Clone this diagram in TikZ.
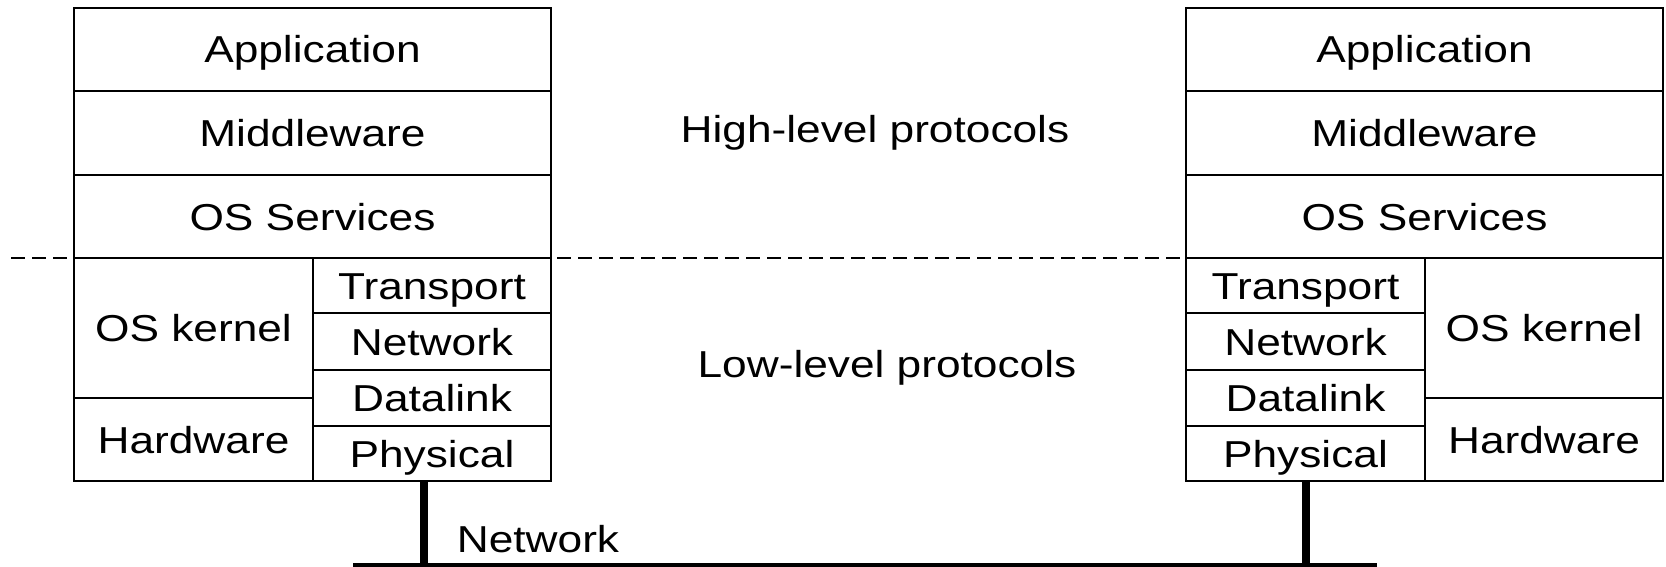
\documentclass[tikz,border=0pt]{standalone}
\usepackage{fontspec}
\setmainfont[FakeStretch=1.18]{Liberation Sans}
\newcommand{\lblfont}{\fontsize{37.5pt}{45pt}\selectfont}
\begin{document}
\begin{tikzpicture}[x=1pt, y=-1pt,
  cell/.style={draw, line width=2.5pt, inner sep=0pt, outer sep=0pt,
    anchor=north west, text height=27pt, text depth=0pt, font=\lblfont},
  wide/.style={cell, minimum width=477pt},
  half/.style={cell, minimum width=239pt},
  plain/.style={anchor=base, inner sep=0pt, font=\lblfont},
  bus/.style={line width=8pt},
  divider/.style={line width=2pt, dash pattern=on 14pt off 7pt}]
\useasboundingbox[fill=white] (0,0) rectangle (1666,567);

% dashed boundary between high- and low-level protocols
\coordinate (dashStart) at (11,258);
\coordinate (dashEnd) at (1186,258);
\draw[divider] (dashStart) -- (dashEnd);

% left host
\node[wide, minimum height=83pt] (appL) at (74,8) {Application};
\node[wide, minimum height=84pt] (midL) at (74,91) {Middleware};
\node[wide, minimum height=83pt] (ossL) at (74,175) {OS Services};
\node[half, minimum height=140pt] (kerL) at (74,258) {OS kernel};
\node[half, minimum height=83pt] (hwL) at (74,398) {Hardware};
\node[half, minimum width=238pt, minimum height=55pt] (traL) at (313,258) {Transport};
\node[half, minimum width=238pt, minimum height=57pt] (netL) at (313,313) {Network};
\node[half, minimum width=238pt, minimum height=56pt] (dlkL) at (313,370) {Datalink};
\node[half, minimum width=238pt, minimum height=55pt] (phyL) at (313,426) {Physical};

% right host
\node[wide, minimum height=83pt] (appR) at (1186,8) {Application};
\node[wide, minimum height=84pt] (midR) at (1186,91) {Middleware};
\node[wide, minimum height=83pt] (ossR) at (1186,175) {OS Services};
\node[half, minimum height=55pt] (traR) at (1186,258) {Transport};
\node[half, minimum height=57pt] (netR) at (1186,313) {Network};
\node[half, minimum height=56pt] (dlkR) at (1186,370) {Datalink};
\node[half, minimum height=55pt] (phyR) at (1186,426) {Physical};
\node[half, minimum width=238pt, minimum height=140pt] (kerR) at (1425,258) {OS kernel};
\node[half, minimum width=238pt, minimum height=83pt] (hwR) at (1425,398) {Hardware};

% protocol layer labels
\node[plain] (high) at (875,143) {High-level protocols};
\node[plain] (low) at (887,377) {Low-level protocols};

% network bus and host taps
\coordinate (busL) at (353,567);
\coordinate (busR) at (1377,567);
\coordinate (tapL) at (424,567);
\coordinate (tapR) at (1306,567);
\draw[bus] (busL) -- (busR);
\draw[bus] (tapL |- phyL.south) -- (tapL);
\draw[bus] (tapR |- phyR.south) -- (tapR);
\node[plain] (netlbl) at (538,552) {Network};
\end{tikzpicture}
\end{document}
